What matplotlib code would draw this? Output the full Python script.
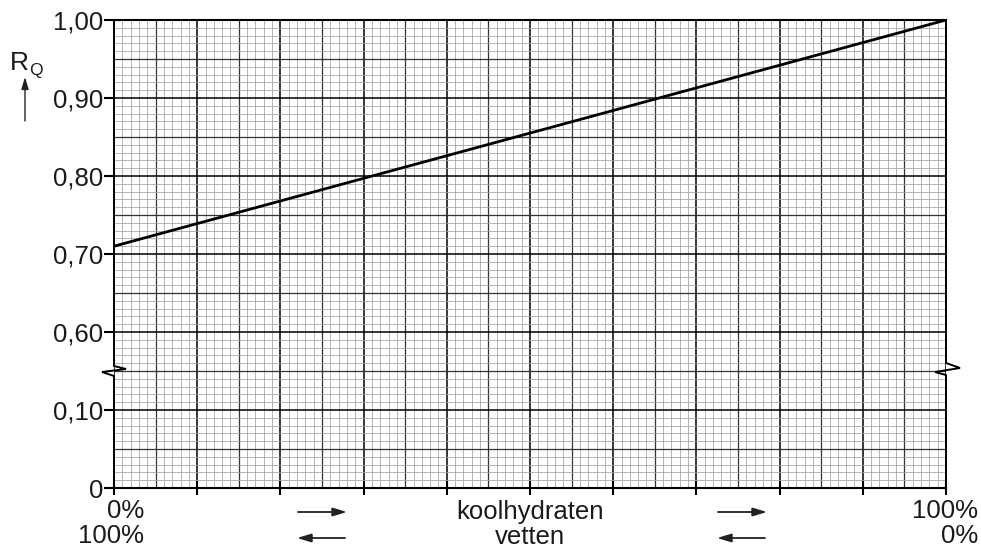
import numpy as np
import matplotlib
matplotlib.use("Agg")
import matplotlib.pyplot as plt
from matplotlib.transforms import blended_transform_factory

# ---- data ----
pct_koolhydraten = [0, 100]
rq_values = [0.71, 1.00]
ytick_values = [0.0, 0.10, 0.60, 0.70, 0.80, 0.90, 1.00]
ytick_labels = ["0", "0,10", "0,60", "0,70", "0,80", "0,90", "1,00"]
xtick_values = list(range(0, 101, 10))

plt.rcParams['font.family'] = ['Liberation Sans', 'DejaVu Sans']
TXT = '#1a1a1a'
FS = 18.5

W, H = 981, 548
fig = plt.figure(figsize=(W / 100, H / 100), dpi=100)
L, R, T, B = 114, 946, 20, 488
ax = fig.add_axes([L / W, 1 - B / H, (R - L) / W, (B - T) / H])


def fwd(v):
    v = np.asarray(v, dtype=float)
    return np.where(v <= 0.1, v, np.where(v >= 0.6, v - 0.4, 0.1 + (v - 0.1) * 0.2))


def inv(d):
    d = np.asarray(d, dtype=float)
    return np.where(d <= 0.1, d, np.where(d >= 0.2, d + 0.4, 0.1 + (d - 0.1) * 5.0))


ax.set_yscale('function', functions=(fwd, inv))
ax.set_xlim(0, 100)
ax.set_ylim(0, 1.0)

# ---- graph paper grid ----
xt = blended_transform_factory(ax.transData, ax.transAxes)
for k in range(0, 101):
    if k % 10 == 0:
        c, lw = 'black', 1.1
    elif k % 5 == 0:
        c, lw = '#333333', 0.9
    else:
        c, lw = '#a0a0a0', 0.55
    ax.plot([k, k], [0, 1], color=c, lw=lw, transform=xt, zorder=1, solid_capstyle='butt')
for k in range(0, 61):
    f = k / 60
    if k % 10 == 0:
        c, lw = 'black', 1.1
    elif k % 5 == 0:
        c, lw = '#333333', 0.9
    else:
        c, lw = '#a0a0a0', 0.55
    ax.plot([0, 1], [f, f], color=c, lw=lw, transform=ax.transAxes, zorder=1, solid_capstyle='butt')

# ---- data line ----
ax.plot(pct_koolhydraten, rq_values, color='black', lw=2.0, zorder=5, solid_capstyle='round')

# ---- spines ----
for s in ['left', 'right']:
    ax.spines[s].set_visible(False)
for s in ['top', 'bottom']:
    ax.spines[s].set_linewidth(1.5)
    ax.spines[s].set_color('black')


def px2ax(px, py):
    return (px - L) / (R - L), (B - py) / (B - T)


left_pts = [(114, 20), (114, 366), (126, 369), (102, 372), (114, 376), (114, 488)]
right_pts = [(946, 20), (946, 363), (960, 368), (935, 372), (946, 375), (946, 488)]
for pts in (left_pts, right_pts):
    xs, ys = zip(*[px2ax(*p) for p in pts])
    ax.plot(xs, ys, color='black', lw=1.4, transform=ax.transAxes, clip_on=False, zorder=6,
            solid_joinstyle='miter')

# ---- ticks ----
ax.set_yticks(ytick_values)
ax.set_yticklabels(ytick_labels)
ax.yaxis.set_minor_locator(matplotlib.ticker.NullLocator())
ax.tick_params(axis='y', direction='out', length=7, width=1.5, labelsize=FS,
               labelcolor=TXT, pad=1)
ax.set_xticks(xtick_values)
ax.set_xticklabels([])
ax.tick_params(axis='x', direction='inout', length=10, width=1.5)

# ---- x labels ----
def ft(px, py, s, ha='left', size=FS):
    fig.text(px / W, 1 - py / H, s, ha=ha, va='baseline', fontsize=size, color=TXT)


ft(144, 518, "0%", ha='right')
ft(144, 543, "100%", ha='right')
ft(978, 518, "100%", ha='right')
ft(978, 543, "0%", ha='right')
bt = blended_transform_factory(ax.transData, fig.transFigure)
ax.text(50, 1 - 519 / H, "koolhydraten", transform=bt, ha='center', va='baseline',
        fontsize=FS, color=TXT)
ax.text(50, 1 - 544 / H, "vetten", transform=bt, ha='center', va='baseline',
        fontsize=FS, color=TXT)

arrow_kw = dict(arrowstyle='-|>,head_length=0.6,head_width=0.18', color='#222222', lw=1.3,
                shrinkA=0, shrinkB=0)
for x0, x1, y in [(298, 347, 512), (718, 767, 512)]:
    fig.add_artist(matplotlib.patches.FancyArrowPatch((x0 / W, 1 - y / H), (x1 / W, 1 - y / H),
                                                      transform=fig.transFigure, mutation_scale=14,
                                                      **arrow_kw))
for x0, x1, y in [(345, 297, 538), (765, 717, 538)]:
    fig.add_artist(matplotlib.patches.FancyArrowPatch((x0 / W, 1 - y / H), (x1 / W, 1 - y / H),
                                                      transform=fig.transFigure, mutation_scale=14,
                                                      **arrow_kw))

# ---- y label R_Q with arrow ----
fig.text(10 / W, 1 - 70 / H, "R", fontsize=19, color=TXT, va='baseline', ha='left')
fig.text(29 / W, 1 - 75 / H, "Q", fontsize=12.5, color=TXT, va='baseline', ha='left')
fig.add_artist(matplotlib.patches.FancyArrowPatch((25 / W, 1 - 121 / H), (25 / W, 1 - 77 / H),
                                                  transform=fig.transFigure, mutation_scale=12,
                                                  arrowstyle='-|>,head_length=0.6,head_width=0.18',
                                                  color='#222222', lw=1.0, shrinkA=0, shrinkB=0))

fig.savefig("out.png", dpi=100)
